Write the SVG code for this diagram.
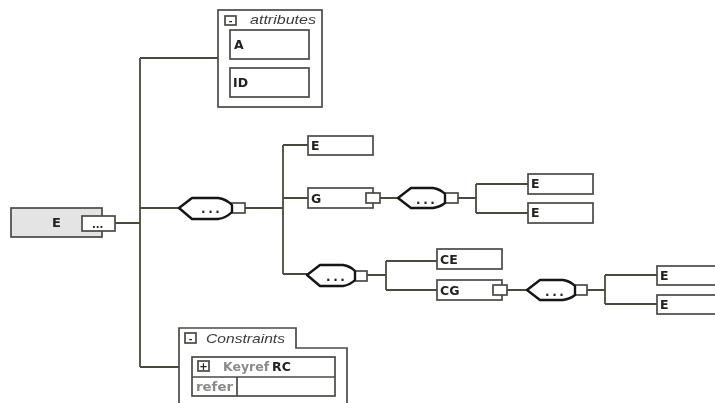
<svg xmlns="http://www.w3.org/2000/svg" width="715" height="403" viewBox="0 0 715 403">
<style>
text{font-family:"DejaVu Sans",sans-serif;font-weight:bold;font-size:12.5px;fill:#222}
.l{fill:none;stroke:#4a4a3c;stroke-width:1.8}
.b{fill:#fff;stroke:#4a4a44;stroke-width:1.7}
.h{fill:#fff;stroke:#141414;stroke-width:2.4;stroke-linejoin:round}
.i{font-family:"Liberation Sans",sans-serif;font-style:italic;font-weight:normal;font-size:13px;fill:#3c3c3c}
.g{fill:#8a8a8a}
.d{font-size:12px;letter-spacing:2.6px}
</style>
<defs><filter id="soft" filterUnits="userSpaceOnUse" x="0" y="0" width="715" height="403"><feGaussianBlur stdDeviation="0.4"/></filter></defs>
<rect width="715" height="403" fill="#fff"/>
<g filter="url(#soft)">
<g id="connectors">
<path class="l" d="M115 223H140M140 58V367M140 58H218M140 208H179M140 367H179"/>
<path class="l" d="M245 208H283M283 145V274M283 145H308M283 198H308M283 274H307"/>
<path class="l" d="M380 198H398M458 198H476M476 184V213M476 184H528M476 213H528"/>
<path class="l" d="M367 275H386M386 261V290M386 261H437M386 290H437"/>
<path class="l" d="M507 290H527M587 290H605M605 275V304M605 275H657M605 304H657"/>
</g>
<g id="node-root">
<rect x="11" y="208" width="91" height="29" fill="#e4e4e4" stroke="#4a4a44" stroke-width="1.7"/>
<rect class="b" x="82" y="216" width="33" height="15"/>
<text x="52" y="227" style="font-size:13px">E</text>
<text x="92" y="228" style="font-size:10px">...</text>
</g>
<g id="node-attributes">
<rect class="b" x="218" y="10" width="104" height="97"/>
<rect class="b" x="225" y="16" width="11" height="9"/>
<text x="230.500" y="24" text-anchor="middle" style="font-size:9px">-</text>
<text class="i" x="250" y="24" textLength="66" lengthAdjust="spacingAndGlyphs">attributes</text>
<rect class="b" x="230" y="30" width="79" height="29"/>
<text x="234" y="49">A</text>
<rect class="b" x="230" y="68" width="79" height="29"/>
<text x="233" y="87">ID</text>
</g>
<g id="seq-1">
<rect class="b" x="231" y="203" width="14" height="10"/>
<path class="h" d="M179 208L192 198H218Q226 199 232 205V212Q226 218 218 219H192Z"/>
<text class="d" x="201" y="213">...</text>
</g>
<g id="node-e1"><rect class="b" x="308" y="136" width="65" height="19"/><text x="311" y="150">E</text></g>
<g id="node-g">
<rect class="b" x="308" y="188" width="65" height="20"/><text x="311" y="203">G</text>
<rect class="b" x="366" y="193" width="14" height="10"/>
</g>
<g id="seq-2">
<rect class="b" x="444" y="193" width="14" height="10"/>
<path class="h" d="M398 198L411 188H433Q440 189 445 194V203Q440 207 433 208H411Z"/>
<text class="d" x="416" y="204">...</text>
</g>
<g id="node-e2"><rect class="b" x="528" y="174" width="65" height="20"/><text x="531" y="188">E</text></g>
<g id="node-e3"><rect class="b" x="528" y="203" width="65" height="20"/><text x="531" y="217">E</text></g>
<g id="seq-3">
<rect class="b" x="354" y="271" width="13" height="10"/>
<path class="h" d="M307 275L320 265H343Q350 266 355 271V280Q350 285 343 286H320Z"/>
<text class="d" x="326" y="281">...</text>
</g>
<g id="node-ce"><rect class="b" x="437" y="249" width="65" height="20"/><text x="440" y="264">CE</text></g>
<g id="node-cg">
<rect class="b" x="437" y="280" width="65" height="20"/><text x="440" y="295">CG</text>
<rect class="b" x="493" y="285" width="14" height="10"/>
</g>
<g id="seq-4">
<rect class="b" x="574" y="285" width="13" height="10"/>
<path class="h" d="M527 290L540 280H563Q570 281 575 286V295Q570 299 563 300H540Z"/>
<text class="d" x="545" y="296">...</text>
</g>
<g id="node-e4"><rect class="b" x="657" y="266" width="60" height="19"/><text x="660" y="280">E</text></g>
<g id="node-e5"><rect class="b" x="657" y="295" width="60" height="19"/><text x="660" y="309">E</text></g>
<g id="node-constraints">
<path class="b" d="M179 405V328H296V348H347V405"/>
<rect class="b" x="185" y="333" width="11" height="10"/>
<text x="190.500" y="342" text-anchor="middle" style="font-size:9px">-</text>
<text class="i" x="206" y="343" textLength="79" lengthAdjust="spacingAndGlyphs">Constraints</text>
<rect class="b" x="192" y="357" width="143" height="39"/>
<path class="b" d="M192 377H335M237 377V396"/>
<rect class="b" x="198" y="361" width="11" height="10"/>
<text x="203.500" y="370" text-anchor="middle" style="font-size:10px">+</text>
<text class="g" x="223" y="371">Keyref</text>
<text x="272" y="371">RC</text>
<text class="g" x="196" y="391" textLength="37" lengthAdjust="spacingAndGlyphs">refer</text>
</g>
</g>
</svg>
